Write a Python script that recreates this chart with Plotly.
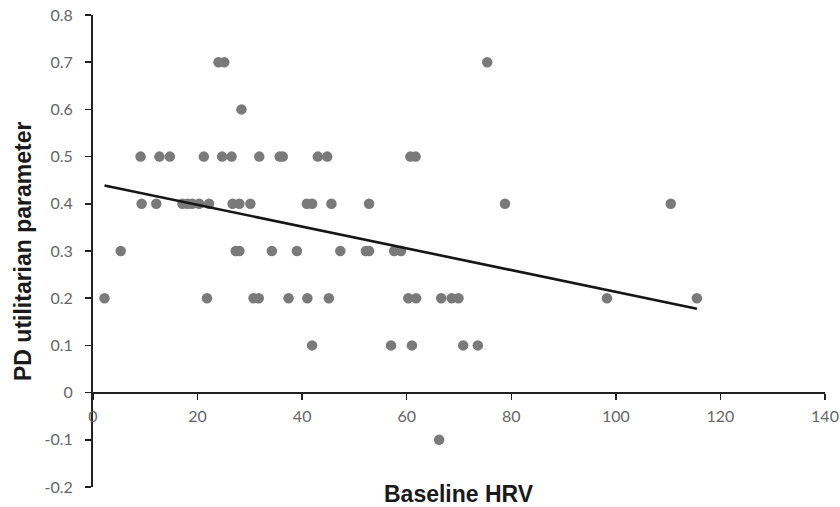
import numpy as np
import plotly.graph_objects as go

# Baseline HRV (x) and PD utilitarian parameter (y)
hrv_07 = [24.0, 25.1, 75.4]
hrv_06 = [28.4]
hrv_05 = [9.1, 12.7, 14.7, 21.2, 24.7, 26.5, 31.8, 35.7, 36.3, 43.0, 44.8, 60.7, 61.7]
hrv_04 = [9.3, 12.1, 17.1, 18.1, 19.0, 20.3, 22.2, 26.7, 28.0, 30.1, 40.9, 41.9, 45.6,
          52.8, 78.8, 110.5]
hrv_03 = [5.3, 27.3, 28.0, 34.2, 39.0, 47.3, 52.2, 52.8, 57.6, 58.9]
hrv_02 = [2.2, 21.8, 30.7, 31.7, 37.4, 41.0, 45.1, 60.3, 61.8, 66.6, 68.6, 69.9, 98.3, 115.5]
hrv_01 = [41.9, 57.0, 61.0, 70.8, 73.6]
hrv_m01 = [66.2]

groups = [(0.7, hrv_07), (0.6, hrv_06), (0.5, hrv_05), (0.4, hrv_04),
          (0.3, hrv_03), (0.2, hrv_02), (0.1, hrv_01), (-0.1, hrv_m01)]
x_vals = [x for _, xs in groups for x in xs]
y_vals = [y for y, xs in groups for _ in xs]

x_ticks = [0, 20, 40, 60, 80, 100, 120, 140]
y_ticks = [-0.2, -0.1, 0, 0.1, 0.2, 0.3, 0.4, 0.5, 0.6, 0.7, 0.8]
y_tick_text = ["-0.2", "-0.1", "0", "0.1", "0.2", "0.3", "0.4", "0.5", "0.6", "0.7", "0.8"]

# linear trendline over the data range
slope, intercept = np.polyfit(x_vals, y_vals, 1)
tx = np.array([min(x_vals), max(x_vals)])
ty = slope * tx + intercept

fig = go.Figure()
fig.add_trace(go.Scatter(
    x=x_vals, y=y_vals, mode="markers",
    marker=dict(size=10.5, color="#7a7a7a", line=dict(width=0)),
    showlegend=False, hoverinfo="skip"))
fig.add_trace(go.Scatter(
    x=tx, y=ty, mode="lines",
    line=dict(color="#161616", width=2.6),
    showlegend=False, hoverinfo="skip"))

tick_font = dict(family="Lato, Noto Sans, sans-serif", size=16, color="#666666")
axis_col = "#222222"
title_font = dict(family="Liberation Sans, Arial, sans-serif", size=23, color="#1a1a1a")

fig.update_layout(
    width=840, height=507,
    margin=dict(l=93, r=15, t=15, b=20),
    paper_bgcolor="white", plot_bgcolor="white",
    hovermode=False,
    xaxis=dict(
        range=[0, 140], tickvals=x_ticks, ticktext=[str(v) for v in x_ticks],
        showgrid=False, zeroline=False, showline=True, linecolor=axis_col, linewidth=2,
        ticks="outside", ticklen=6, tickwidth=1.5, tickcolor=axis_col,
        tickfont=tick_font, anchor="free", position=0.2, ticklabelstandoff=3,
        automargin=False, ticklabeloverflow="allow",
    ),
    yaxis=dict(
        range=[-0.2, 0.8], tickvals=y_ticks, ticktext=y_tick_text,
        showgrid=False, zeroline=False, showline=True, linecolor=axis_col, linewidth=2,
        ticks="outside", ticklen=6, tickwidth=1.5, tickcolor=axis_col,
        tickfont=tick_font, ticklabelstandoff=9, automargin=False,
        ticklabeloverflow="allow",
    ),
    annotations=[
        dict(text="<b>Baseline HRV</b>", xref="paper", yref="paper", x=0.5, y=-0.015,
             xanchor="center", yanchor="middle", showarrow=False, font=title_font),
        dict(text="<b>PD utilitarian parameter</b>", xref="paper", yref="paper",
             x=0, y=0.5, xanchor="center", yanchor="middle", showarrow=False,
             xshift=-70, textangle=-90, font=title_font),
    ],
)

fig.write_html("out.html", config={"displayModeBar": False, "staticPlot": True},
               post_script="document.body.style.margin='0';document.body.style.overflow='hidden';")
